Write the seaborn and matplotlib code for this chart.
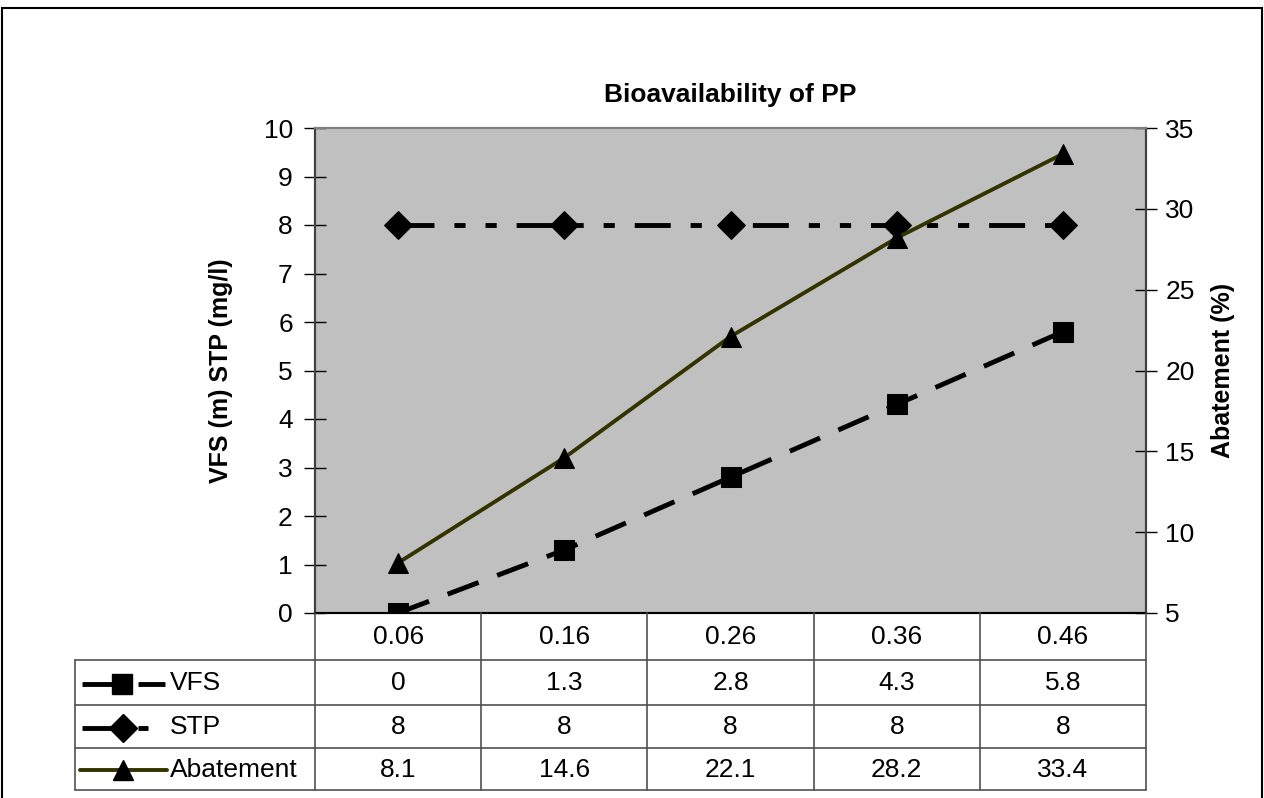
import matplotlib
matplotlib.use("Agg")
import matplotlib.pyplot as plt
from matplotlib.lines import Line2D
from matplotlib.patches import Rectangle
import seaborn as sns
import pandas as pd

categories = ["0.06", "0.16", "0.26", "0.36", "0.46"]
vfs = [0, 1.3, 2.8, 4.3, 5.8]
stp = [8, 8, 8, 8, 8]
abatement = [8.1, 14.6, 22.1, 28.2, 33.4]
series_names = ["VFS", "STP", "Abatement"]
title = "Bioavailability of PP"
left_label = "VFS (m) STP (mg/l)"
right_label = "Abatement (%)"

sns.set_theme(style="white")
plt.rcParams['font.family'] = ['Liberation Sans', 'DejaVu Sans']
plt.rcParams['text.color'] = 'black'
plt.rcParams['axes.labelcolor'] = 'black'
plt.rcParams['ytick.color'] = 'black'
plt.rcParams['xtick.color'] = 'black'

W, H = 1264, 798
fig = plt.figure(figsize=(W / 100, H / 100), dpi=100)

def fx(px):
    return px / W

def fy(py):
    return 1 - py / H

FS = 19
L, R, T, B = 315, 1146, 128, 613
ax = fig.add_axes([fx(L), fy(B), fx(R) - fx(L), fy(T) - fy(B)])
ax.set_facecolor("#c0c0c0")

pos = list(range(len(categories)))
df = pd.DataFrame({"pos": pos, "VFS": vfs, "STP": stp, "Abatement": abatement})

styles = {
    "VFS": dict(color="black", lw=3.5, dashes=(6.8, 4.1), marker="s", ms=14),
    "STP": dict(color="black", lw=3.5, dashes=(7.4, 4.1, 2.3, 4.1, 2.3, 4.1), marker="D", ms=14),
    "Abatement": dict(color="#333300", lw=2.8, dashes=None, marker="^", ms=15),
}

for name in ["VFS", "STP"]:
    st = styles[name]
    sns.lineplot(data=df, x="pos", y=name, ax=ax, color=st["color"], lw=st["lw"],
                 marker=st["marker"], markersize=st["ms"], markerfacecolor="black",
                 markeredgecolor="black", dashes=False, legend=False, zorder=3)
    ax.lines[-1].set_dashes(st["dashes"])
    ax.lines[-1].set_dash_capstyle("butt")

ax.set_xlim(-0.5, len(categories) - 0.5)
ax.set_ylim(0, 10)
ax.set_yticks(range(0, 11))
ax.set_xticks([])
ax.set_xlabel("")
ax.set_ylabel(left_label, fontsize=18, fontweight="bold", labelpad=22, color="black")
ax.tick_params(axis="y", direction="inout", length=16, width=1, colors="black", labelsize=FS, pad=8, left=True)

ax2 = ax.twinx()
st = styles["Abatement"]
sns.lineplot(data=df, x="pos", y="Abatement", ax=ax2, color=st["color"], lw=st["lw"],
             marker=st["marker"], markersize=st["ms"], markerfacecolor="black",
             markeredgecolor="black", legend=False, zorder=3)
ax2.set_ylim(5, 35)
ax2.set_yticks(range(5, 36, 5))
ax2.set_xlim(-0.5, len(categories) - 0.5)
ax2.set_xticks([])
ax2.set_xlabel("")
ax2.set_ylabel(right_label, fontsize=18, fontweight="bold", labelpad=12, color="black")
ax2.tick_params(axis="y", direction="inout", length=16, width=1, colors="black", labelsize=FS, pad=6, right=True)

for a in (ax, ax2):
    for s in a.spines.values():
        s.set_visible(True)
        s.set_color("#808080")
        s.set_linewidth(1.5)
    a.spines["bottom"].set_color("black")
    a.spines["left"].set_color("#404040")
    a.spines["right"].set_color("#404040")

fig.text(fx((L + R) / 2), fy(95), title, ha="center", va="center", fontsize=19, fontweight="bold", color="black")

# Data table
row_y = [613, 660, 705, 748, 790]
col_x = [L + (R - L) * i / len(categories) for i in range(len(categories) + 1)]
LEG_L = 75
lc = "#505050"

def hline(x0, x1, y):
    fig.add_artist(Line2D([fx(x0), fx(x1)], [fy(y), fy(y)], color=lc, lw=1.2))

def vline(x, y0, y1):
    fig.add_artist(Line2D([fx(x), fx(x)], [fy(y0), fy(y1)], color=lc, lw=1.2))

for y in row_y[1:]:
    hline(LEG_L, R, y)
for x in col_x:
    vline(x, row_y[0], row_y[-1])
vline(LEG_L, row_y[1], row_y[-1])

for i, c in enumerate(categories):
    fig.text(fx((col_x[i] + col_x[i + 1]) / 2), fy((row_y[0] + row_y[1]) / 2 + 1), c,
             ha="center", va="center", fontsize=FS, color="black")

def px2lw(px, lw):
    return px * 0.72 / lw

legend_geo = {
    "VFS": dict(x0=82, xm=122, x1=165, dash_px=(46, 10, 27, 40)),
    "STP": dict(x0=82, xm=123, x1=148, dash_px=(50, 6, 10, 40)),
    "Abatement": dict(x0=80, xm=123, x1=167, dash_px=None),
}

values = {"VFS": vfs, "STP": stp, "Abatement": abatement}
for r, name in enumerate(series_names):
    yc = (row_y[r + 1] + row_y[r + 2]) / 2 + 1
    for i, v in enumerate(values[name]):
        fig.text(fx((col_x[i] + col_x[i + 1]) / 2), fy(yc), f"{v:g}",
                 ha="center", va="center", fontsize=FS, color="black")
    st = styles[name]
    g = legend_geo[name]
    ln = Line2D([fx(g["x0"]), fx(g["xm"]), fx(g["x1"])], [fy(yc)] * 3, color=st["color"], lw=st["lw"],
                marker=st["marker"], markersize=st["ms"], markevery=[1],
                markerfacecolor="black", markeredgecolor="black")
    if g["dash_px"] is not None:
        ln.set_dashes(tuple(px2lw(p, st["lw"]) for p in g["dash_px"]))
        ln.set_dash_capstyle("butt")
    fig.add_artist(ln)
    fig.text(fx(170), fy(yc), name, ha="left", va="center", fontsize=FS, color="black")

# outer chart border
fig.add_artist(Rectangle((fx(2), fy(806)), fx(1262) - fx(2), fy(8) - fy(806),
                         fill=False, edgecolor="black", lw=1.5, transform=fig.transFigure))

fig.savefig("out.png", dpi=100)
